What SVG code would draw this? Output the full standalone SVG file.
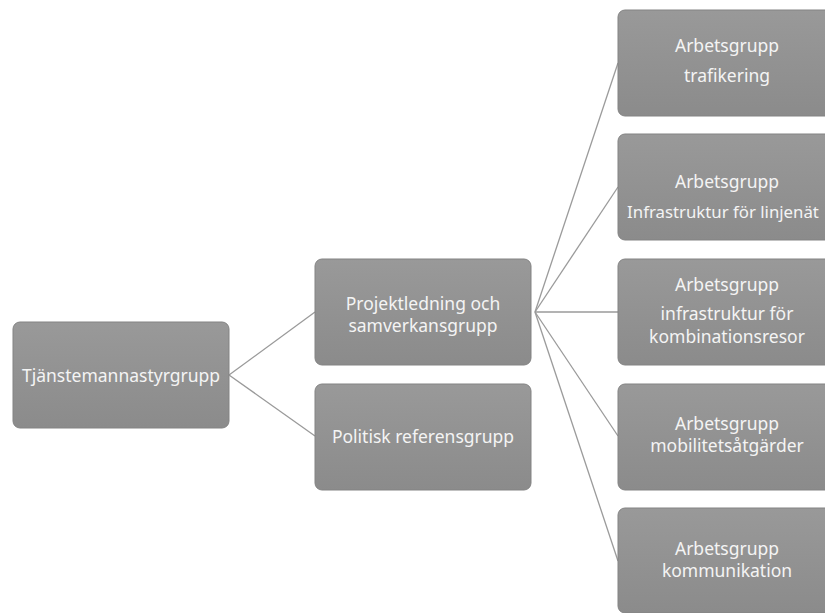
<svg xmlns="http://www.w3.org/2000/svg" width="825" height="613" viewBox="0 0 825 613">
<defs>
<linearGradient id="g" x1="0" y1="0" x2="0" y2="1">
<stop offset="0" stop-color="#999999"/>
<stop offset="1" stop-color="#8b8b8b"/>
</linearGradient>
<style>
.box{fill:url(#g);stroke:#838383;stroke-width:1}
.t{font-family:"Noto Sans","Open Sans","Liberation Sans",sans-serif;font-size:17.5px;fill:#f4f4f4;text-anchor:middle}
.c{stroke:#9a9a9a;stroke-width:1.3;fill:none}
</style>
</defs>
<rect width="825" height="613" fill="#ffffff"/>
<g id="connectors">
<path class="c" d="M229 375 L315 312"/>
<path class="c" d="M229 375 L315 436"/>
<path class="c" d="M535 312 L618 63"/>
<path class="c" d="M535 312 L618 187"/>
<path class="c" d="M535 312 L618 312"/>
<path class="c" d="M535 312 L618 436"/>
<path class="c" d="M535 312 L618 561"/>
</g>
<g id="n-tjanstemanna">
<rect class="box" x="13" y="322" width="216" height="106" rx="7"/>
<text class="t" x="121" y="382">Tjänstemannastyrgrupp</text>
</g>
<g id="n-projektledning">
<rect class="box" x="315" y="259" width="216" height="106" rx="7"/>
<text class="t" x="423" y="310">Projektledning och</text>
<text class="t" x="423" y="332">samverkansgrupp</text>
</g>
<g id="n-politisk">
<rect class="box" x="315" y="384" width="216" height="106" rx="7"/>
<text class="t" x="423" y="443">Politisk referensgrupp</text>
</g>
<g id="n-trafikering">
<rect class="box" x="618" y="10" width="216" height="106" rx="7"/>
<text class="t" x="727" y="52">Arbetsgrupp</text>
<text class="t" x="727" y="82">trafikering</text>
</g>
<g id="n-linjenat">
<rect class="box" x="618" y="134" width="216" height="106" rx="7"/>
<text class="t" x="727" y="188">Arbetsgrupp</text>
<text class="t" x="723" y="218" style="font-size:16.8px">Infrastruktur för linjenät</text>
</g>
<g id="n-kombination">
<rect class="box" x="618" y="259" width="216" height="106" rx="7"/>
<text class="t" x="727" y="291">Arbetsgrupp</text>
<text class="t" x="727" y="320">infrastruktur för</text>
<text class="t" x="727" y="343">kombinationsresor</text>
</g>
<g id="n-mobilitet">
<rect class="box" x="618" y="384" width="216" height="106" rx="7"/>
<text class="t" x="727" y="430">Arbetsgrupp</text>
<text class="t" x="727" y="452">mobilitetsåtgärder</text>
</g>
<g id="n-kommunikation">
<rect class="box" x="618" y="508" width="216" height="105" rx="7"/>
<text class="t" x="727" y="555">Arbetsgrupp</text>
<text class="t" x="727" y="577">kommunikation</text>
</g>
</svg>
